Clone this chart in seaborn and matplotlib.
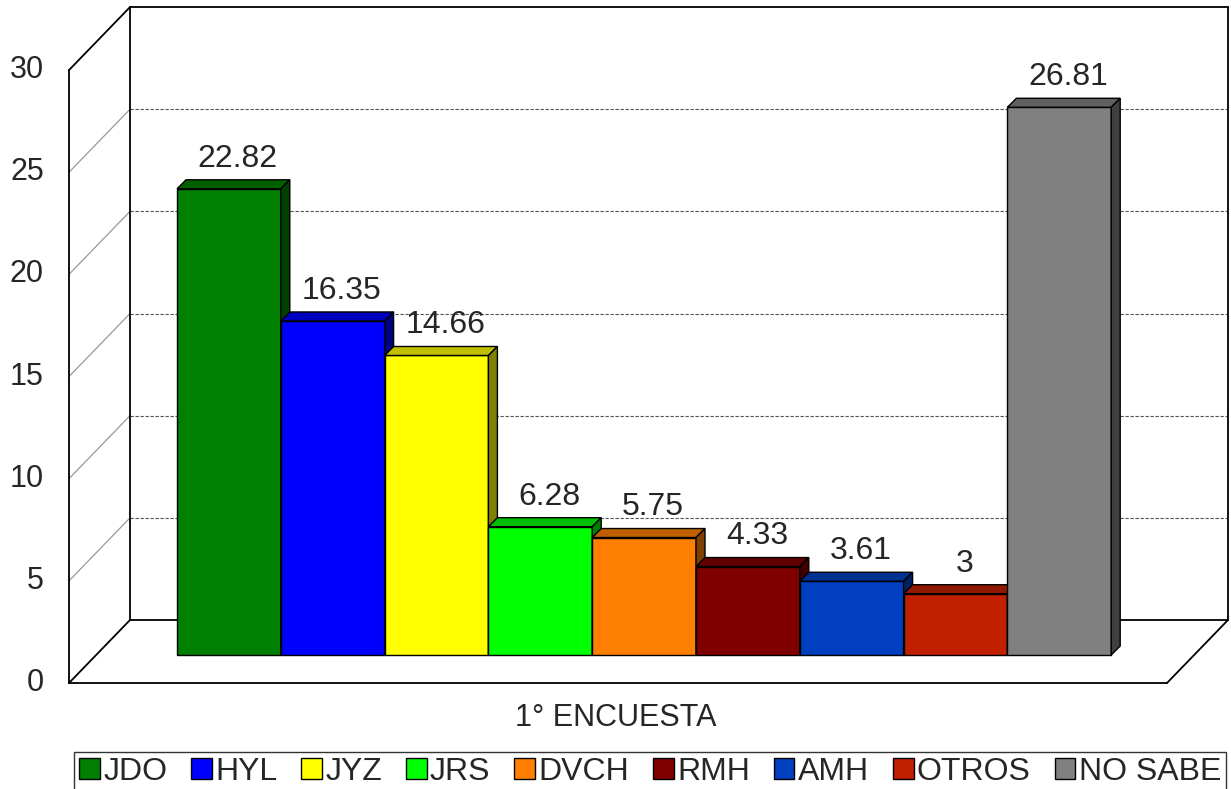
import numpy as np
import matplotlib.pyplot as plt
import seaborn as sns
from matplotlib.patches import Polygon, Patch
from matplotlib.colors import to_rgb

# data
categories = ['JDO', 'HYL', 'JYZ', 'JRS', 'DVCH', 'RMH', 'AMH', 'OTROS', 'NO SABE']
values = [22.82, 16.35, 14.66, 6.28, 5.75, 4.33, 3.61, 3, 26.81]
colors = ['#008000', '#0000FF', '#FFFF00', '#00FF00', '#FF8000',
          '#800000', '#0040C0', '#C02000', '#808080']
y_ticks = [0, 5, 10, 15, 20, 25, 30]
x_label = '1° ENCUESTA'

sns.set_theme(style='white')
plt.rcParams['font.family'] = ['Liberation Sans', 'DejaVu Sans']

W, H = 1231, 789
fig = plt.figure(figsize=(W / 100, H / 100), dpi=100)
ax = fig.add_axes([0, 0, 1, 1])

# bars through seaborn
sns.barplot(x=categories, y=values, hue=categories, palette=colors, width=1,
            saturation=1, legend=False, edgecolor='black', linewidth=1, ax=ax)

# map data units so the chart sits like the original pseudo-3d layout
BAR_W = 103.8    # px per category
PX_UNIT = 20.43  # px per value unit
X0_PX = 177      # left edge of first bar
Y0_PX = 655      # bar baseline
ax.set_xlim(-0.5 - X0_PX / BAR_W, -0.5 + (W - X0_PX) / BAR_W)
ax.set_ylim(-(H - Y0_PX) / PX_UNIT, Y0_PX / PX_UNIT)
ax.set_axis_off()


def px(xp, yp):
    return np.array([-0.5 + (xp - X0_PX) / BAR_W, (Y0_PX - yp) / PX_UNIT])


# bar depth
dx, dy = 9 / BAR_W, 9 / PX_UNIT

for i, p in enumerate(ax.patches):
    x, w, h = p.get_x(), p.get_width(), p.get_height()
    base = np.array(to_rgb(p.get_facecolor()))
    z = 3 + i * 0.1
    p.set_zorder(z)
    top = Polygon([(x, h), (x + dx, h + dy), (x + w + dx, h + dy), (x + w, h)],
                  closed=True, facecolor=base * 0.75, edgecolor='black', lw=1, zorder=z)
    side = Polygon([(x + w, 0), (x + w, h), (x + w + dx, h + dy), (x + w + dx, dy)],
                   closed=True, facecolor=base * 0.5, edgecolor='black', lw=1, zorder=z)
    ax.add_patch(top)
    ax.add_patch(side)
    ax.text(x + w / 2 + dx, h + dy + 0.64, f'{values[i]:g}', ha='center',
            va='baseline', fontsize=23, zorder=10)

# frame: floor, walls, gridlines
FL = px(69, 683)
BL = px(130, 620)
BR = px(1228, 620)
FR = BR - (BL - FL)
top = np.array([0, 30])


def seg(a, b, **kw):
    ax.plot([a[0], b[0]], [a[1], b[1]], **kw)


frame = dict(color='black', lw=1.3, zorder=2, solid_capstyle='round')
for t in y_ticks[1:-1]:
    off = np.array([0, t])
    seg(BL + off, BR + off, color='#555555', lw=0.8, ls=(0, (3, 1.5)), zorder=1)
    seg(FL + off, BL + off, color='#999999', lw=0.9, zorder=1)
seg(FL, FL + top, **frame)
seg(FL + top, BL + top, **frame)
seg(BL, BL + top, **frame)
seg(BL + top, BR + top, **frame)
seg(BR, BR + top, **frame)
seg(BL, BR, **frame)
seg(FL, FR, **frame)
seg(FL, BL, **frame)
seg(FR, BR, **frame)

# tick labels along front axis
lab_x = px(44, 0)[0]
for t in y_ticks:
    ax.text(lab_x, FL[1] + t, str(t), ha='right', va='center', fontsize=22)

fig.text(616 / W, 1 - 718 / H, x_label, ha='center', va='center', fontsize=22)

handles = [Patch(facecolor=c, edgecolor='black') for c in colors]
leg = fig.legend(handles, categories, loc='upper center',
                 bbox_to_anchor=(650 / W, 1 - 752 / H), ncol=9, fontsize=23,
                 frameon=True, fancybox=False, edgecolor='black',
                 handlelength=0.65, handleheight=0.65, handletextpad=0.1,
                 columnspacing=0.75, borderpad=0.15, borderaxespad=0)
leg.get_frame().set_linewidth(1)

fig.savefig('out.png', dpi=100, facecolor='white')
